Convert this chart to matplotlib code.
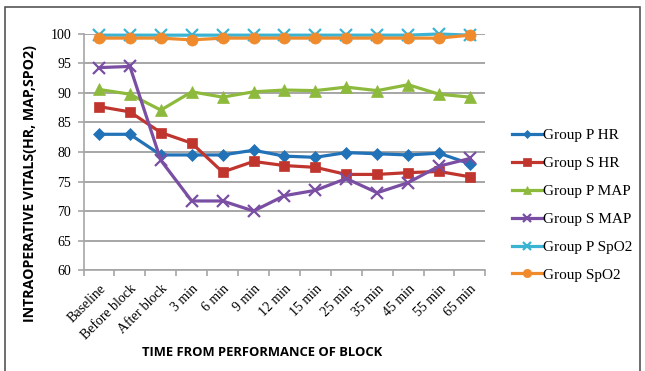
import numpy as np
import matplotlib
matplotlib.use("Agg")
import matplotlib.pyplot as plt
from matplotlib.patches import Rectangle

# time points after the block
times = ["Baseline", "Before block", "After block", "3 min", "6 min", "9 min",
         "12 min", "15 min", "25 min", "35 min", "45 min", "55 min", "65 min"]

p_hr = [83.0, 83.0, 79.5, 79.5, 79.5, 80.3, 79.3, 79.1, 79.9, 79.7, 79.5, 79.8, 78.0]
s_hr = [87.7, 86.8, 83.3, 81.5, 76.6, 78.4, 77.7, 77.4, 76.2, 76.2, 76.5, 76.7, 75.8]
p_map = [90.6, 89.8, 87.1, 90.2, 89.3, 90.2, 90.5, 90.4, 91.0, 90.4, 91.4, 89.8, 89.3]
s_map = [94.3, 94.5, 78.6, 71.7, 71.7, 70.0, 72.6, 73.5, 75.5, 73.1, 74.8, 77.6, 78.9]
p_spo2 = [99.8, 99.8, 99.8, 99.8, 99.8, 99.8, 99.8, 99.8, 99.8, 99.8, 99.8, 100.0, 99.8]
s_spo2 = [99.3, 99.3, 99.3, 99.0, 99.3, 99.3, 99.3, 99.3, 99.3, 99.3, 99.3, 99.3, 99.8]

series = [
    ("Group P HR", p_hr, "#2272B8", "D", 6),
    ("Group S HR", s_hr, "#C0362F", "s", 7.5),
    ("Group P MAP", p_map, "#8DBA3C", "^", 8),
    ("Group S MAP", s_map, "#7A4FA3", "x", 8),
    ("Group P SpO2", p_spo2, "#3BB3D3", "x", 8),
    ("Group SpO2", s_spo2, "#F08B2D", "o", 8),
]

serif = "Liberation Serif"

fig = plt.figure(figsize=(6.45, 3.71), dpi=100)
ax = fig.add_axes([0.1295, 0.2722, 0.623, 0.6362])

x = np.arange(len(times))
for name, vals, col, mk, ms in series:
    ax.plot(x, vals, color=col, lw=2.3, marker=mk, markersize=ms,
            markeredgewidth=1.6 if mk == "x" else 0.5,
            markeredgecolor=col, markerfacecolor=col, label=name,
            clip_on=False, zorder=3)

ax.set_xlim(-0.5, len(times) - 0.5)
ax.set_ylim(60, 100)
ax.set_yticks(np.arange(60, 101, 5))
ax.yaxis.grid(True, color="#A6A6A6", lw=1.4)
ax.set_axisbelow(True)

ax.set_xticks(x)
ax.set_xticklabels(times, rotation=45, ha="right", rotation_mode="anchor",
                   family=serif, fontsize=10)
ax.set_xticks(np.arange(-0.5, len(times), 1), minor=True)
ax.tick_params(axis="x", which="major", length=0, pad=9)
ax.tick_params(axis="x", which="minor", length=4, color="#A6A6A6", width=1.2)
ax.tick_params(axis="y", length=4, color="#A6A6A6", width=1.2, pad=5)
for lab in ax.get_yticklabels():
    lab.set_family(serif)
    lab.set_fontsize(10)

for side in ["top", "right"]:
    ax.spines[side].set_visible(False)
for side in ["left", "bottom"]:
    ax.spines[side].set_color("#A6A6A6")
    ax.spines[side].set_linewidth(1.2)

fig.text(0.047, 0.505, "INTRAOPERATIVE VITALS(HR, MAP,SPO2)", rotation=90,
         ha="center", va="center", fontsize=10.2, fontweight="bold",
         family="Open Sans")
fig.text(0.406, 0.051, "TIME FROM PERFORMANCE OF BLOCK", ha="center",
         va="center", fontsize=9.4, fontweight="bold", family="Open Sans")

leg = ax.legend(loc="center left", bbox_to_anchor=(0.772, 0.447),
                bbox_transform=fig.transFigure, frameon=False,
                prop={"family": serif, "size": 11}, markerscale=0.75,
                handlelength=2.0, handletextpad=0.05, labelspacing=0.93)

fig.patches.append(Rectangle((5 / 645, -0.05), 635 / 645, 1.05 - 7 / 371,
                             transform=fig.transFigure, fill=False,
                             edgecolor="#555555", lw=1.2))

fig.savefig("out.png", dpi=100)
